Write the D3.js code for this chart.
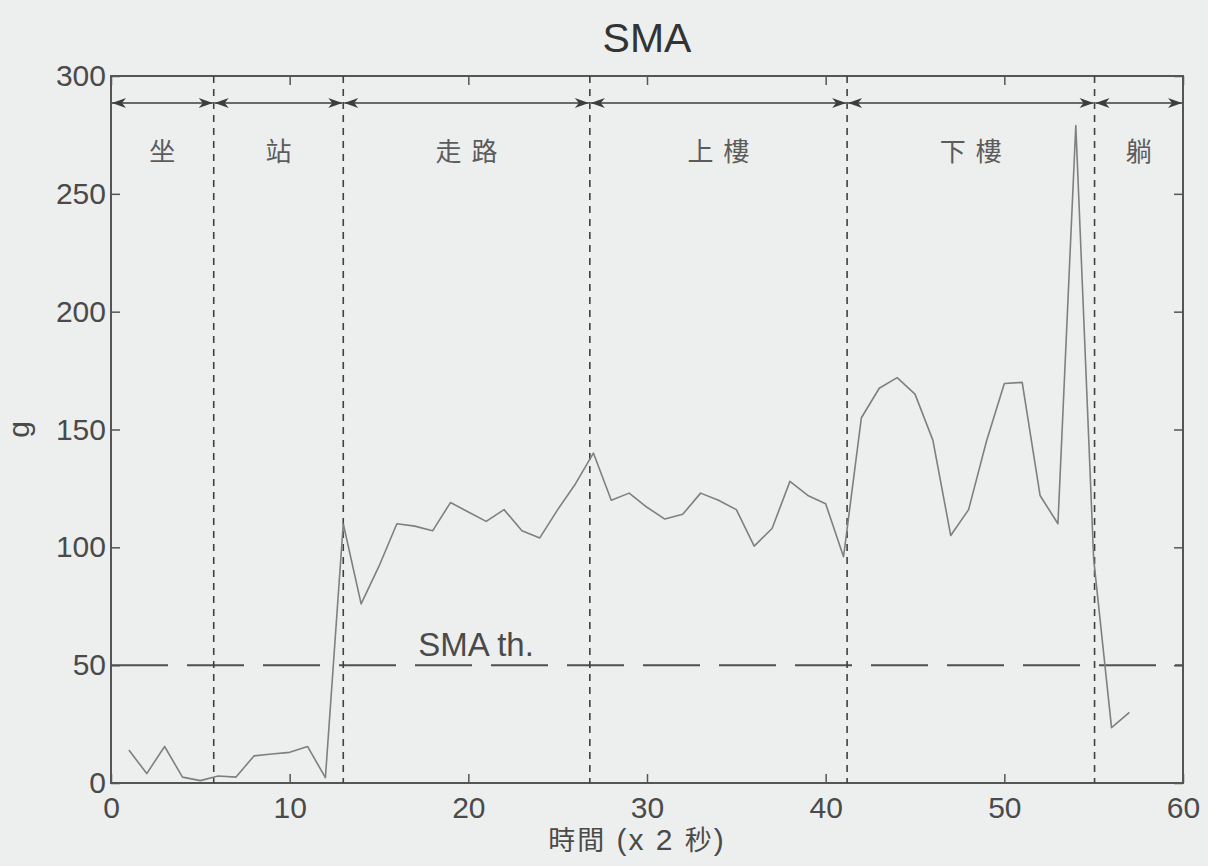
<!DOCTYPE html>
<html>
<head>
<meta charset="utf-8">
<script src="https://cdn.jsdelivr.net/npm/d3@7"></script>
<style>
  html, body { margin: 0; padding: 0; background: #edefee; }
  svg { display: block; }
  text { font-family: "Liberation Sans", Arial, sans-serif; }
</style>
</head>
<body>
<svg></svg>
<script>
// SMA per 2-second window, x = 1..57
const sma = [14, 4, 15.5, 2.5, 1, 3, 2.5, 11.5, 12.3, 13,
  15.5, 2.3, 110, 76, 92, 110, 109, 107, 119, 115,
  111, 116, 107, 104, 116, 127, 140, 120, 123, 117,
  112, 114, 123, 120, 116, 100.5, 108, 128, 122, 118.5,
  96, 155, 167.5, 172, 165, 145.5, 105, 116, 145, 169.5,
  170, 122, 110, 279, 95, 23.5, 30];

const activities = ["坐", "站", "走路", "上樓", "下樓", "躺"];
const boundaries = [0, 5.75, 13, 26.8, 41.2, 55.05, 60];
const xTicks = [0, 10, 20, 30, 40, 50, 60];
const yTicks = [0, 50, 100, 150, 200, 250, 300];
const threshold = 50;
const arrowLevel = 288.5;
const labelLevel = 264;

const W = 1208, H = 866;
const margin = { left: 111, top: 76, right: 25, bottom: 83 };
const iw = W - margin.left - margin.right;
const ih = H - margin.top - margin.bottom;

const svg = d3.select("svg").attr("width", W).attr("height", H);

const x = d3.scaleLinear().domain([0, 60]).range([0, iw]);
const y = d3.scaleLinear().domain([0, 300]).range([ih, 0]);

const g = svg.append("g").attr("transform", `translate(${margin.left},${margin.top})`);

const axisColor = "#555";
const tickLen = 9;

// arrowhead marker
const defs = svg.append("defs");
defs.append("marker")
  .attr("id", "head")
  .attr("viewBox", "-15 -6 16 12")
  .attr("refX", 0).attr("refY", 0)
  .attr("markerWidth", 16).attr("markerHeight", 12)
  .attr("markerUnits", "userSpaceOnUse")
  .attr("orient", "auto-start-reverse")
  .append("path")
  .attr("d", "M0,0 L-14,-5 L-10,0 L-14,5 Z")
  .attr("fill", "#3d3d3d");

// axes
const axBottom = g.append("g").attr("transform", `translate(0,${ih})`)
  .call(d3.axisBottom(x).tickValues(xTicks).tickSizeInner(-tickLen).tickSizeOuter(0).tickPadding(14));
const axTop = g.append("g")
  .call(d3.axisTop(x).tickValues(xTicks).tickSizeInner(-tickLen).tickSizeOuter(0).tickFormat(""));
const axLeft = g.append("g")
  .call(d3.axisLeft(y).tickValues(yTicks).tickSizeInner(-tickLen).tickSizeOuter(0).tickPadding(5));
const axRight = g.append("g").attr("transform", `translate(${iw},0)`)
  .call(d3.axisRight(y).tickValues(yTicks).tickSizeInner(-tickLen).tickSizeOuter(0).tickFormat(""));

[axBottom, axTop, axLeft, axRight].forEach(a => {
  a.select(".domain").remove();
  a.selectAll("line").attr("stroke", axisColor).attr("stroke-width", 1.5);
  a.selectAll("text").attr("font-size", 30).attr("fill", "#4a4a4a");
});

// frame
g.append("rect")
  .attr("width", iw).attr("height", ih)
  .attr("fill", "none").attr("stroke", axisColor).attr("stroke-width", 2);

// threshold
g.append("line")
  .attr("x1", 0).attr("x2", iw)
  .attr("y1", y(threshold)).attr("y2", y(threshold))
  .attr("stroke", "#505050").attr("stroke-width", 2)
  .attr("stroke-dasharray", "57,19");

g.append("text")
  .attr("x", x(17.2)).attr("y", y(threshold) - 9)
  .attr("font-size", 33).attr("fill", "#4a4a4a")
  .text("SMA th.");

// activity boundaries
g.selectAll(".bound").data(boundaries.slice(1, -1)).enter().append("line")
  .attr("class", "bound")
  .attr("x1", d => x(d)).attr("x2", d => x(d))
  .attr("y1", 0).attr("y2", ih)
  .attr("stroke", "#404040").attr("stroke-width", 1.6)
  .attr("stroke-dasharray", "7,6");

// arrows
const segs = activities.map((name, i) => ({ name, a: boundaries[i], b: boundaries[i + 1] }));
g.selectAll(".arrow").data(segs).enter().append("line")
  .attr("class", "arrow")
  .attr("x1", d => x(d.a) + 1).attr("x2", d => x(d.b) - 1)
  .attr("y1", y(arrowLevel)).attr("y2", y(arrowLevel))
  .attr("stroke", "#3d3d3d").attr("stroke-width", 1.5)
  .attr("marker-start", "url(#head)").attr("marker-end", "url(#head)");

g.selectAll(".act").data(segs).enter().append("text")
  .attr("class", "act")
  .attr("x", d => x((d.a + d.b) / 2))
  .attr("dx", d => d.name.length > 1 ? 5 : 0)
  .attr("y", y(labelLevel))
  .attr("text-anchor", "middle")
  .attr("font-size", 26)
  .attr("letter-spacing", d => d.name.length > 1 ? 10 : 0)
  .style("font-family", "'Noto Sans CJK TC', 'Noto Sans CJK SC', sans-serif")
  .attr("fill", "#5c5c5c")
  .text(d => d.name);

// data line
const line = d3.line().x((d, i) => x(i + 1)).y(d => y(d));
g.append("path")
  .datum(sma)
  .attr("d", line)
  .attr("fill", "none")
  .attr("stroke", "#7f7f7f")
  .attr("stroke-width", 1.6)
  .attr("stroke-linejoin", "round");

// title and labels
svg.append("text")
  .attr("x", margin.left + iw / 2).attr("y", 52)
  .attr("text-anchor", "middle")
  .attr("font-size", 41).attr("fill", "#333")
  .text("SMA");

const xl = svg.append("text")
  .attr("x", margin.left + iw / 2 - 10).attr("y", 850)
  .attr("text-anchor", "middle")
  .attr("font-size", 30).attr("fill", "#4a4a4a")
  .attr("letter-spacing", 2);
xl.append("tspan").style("font-family", "'Noto Sans CJK TC', sans-serif").attr("font-size", 27).text("時間");
xl.append("tspan").text(" (x 2 ");
xl.append("tspan").style("font-family", "'Noto Sans CJK TC', sans-serif").attr("font-size", 27).text("秒");
xl.append("tspan").text(")");

svg.append("text")
  .attr("transform", `translate(29,${margin.top + ih / 2}) rotate(-90)`)
  .attr("text-anchor", "middle")
  .attr("font-size", 30).attr("fill", "#4a4a4a")
  .text("g");
</script>
</body>
</html>
